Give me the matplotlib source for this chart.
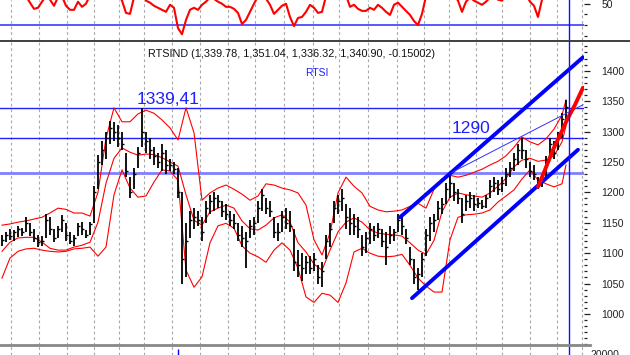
import matplotlib
matplotlib.use('Agg')
import matplotlib.pyplot as plt
import numpy as np

plt.rcParams['font.family'] = ['Liberation Sans', 'DejaVu Sans']

# Дневные бары RTSI (индекс бара слева направо)
highs = [1130, 1135, 1140, 1138, 1145, 1142, 1160, 1150, 1140, 1130,
         1128, 1165, 1160, 1140, 1145, 1162, 1150, 1135, 1130, 1150,
         1152, 1138, 1152, 1210, 1262, 1285, 1300, 1318, 1315, 1310,
         1300, 1265, 1225, 1240, 1275, 1339, 1300, 1290, 1275, 1265,
         1280, 1270, 1255, 1250, 1240, 1200, 1150, 1170, 1175, 1170,
         1160, 1185, 1195, 1200, 1195, 1185, 1180, 1170, 1165, 1150,
         1145, 1135, 1155, 1160, 1185, 1205, 1190, 1185, 1160, 1150,
         1170, 1175, 1170, 1140, 1105, 1100, 1095, 1095, 1100, 1080,
         1085, 1130, 1150, 1185, 1195, 1205, 1180, 1175, 1165, 1160,
         1130, 1135, 1150, 1145, 1150, 1140, 1135, 1145, 1140, 1165,
         1160, 1140, 1110, 1090, 1075, 1100, 1140, 1160, 1165, 1185,
         1190, 1215, 1228, 1215, 1205, 1190, 1195, 1200, 1195, 1190,
         1188, 1195, 1220, 1225, 1220, 1225, 1240, 1250, 1265, 1280,
         1290, 1270, 1250, 1245, 1225, 1230, 1260, 1290, 1285, 1300, 1330, 1351]
lows = [1112, 1118, 1122, 1120, 1127, 1128, 1135, 1128, 1118, 1110,
        1112, 1125, 1130, 1118, 1125, 1135, 1120, 1115, 1112, 1128,
        1130, 1125, 1130, 1150, 1205, 1245, 1255, 1280, 1285, 1275,
        1270, 1225, 1190, 1205, 1240, 1275, 1265, 1255, 1245, 1240,
        1235, 1230, 1235, 1230, 1190, 1050, 1060, 1125, 1140, 1145,
        1120, 1150, 1165, 1170, 1175, 1160, 1155, 1145, 1140, 1120,
        1110, 1075, 1125, 1130, 1150, 1170, 1165, 1160, 1125, 1120,
        1135, 1140, 1135, 1070, 1060, 1055, 1065, 1065, 1070, 1050,
        1045, 1090, 1110, 1150, 1165, 1170, 1140, 1130, 1130, 1125,
        1095, 1100, 1115, 1120, 1125, 1110, 1080, 1115, 1120, 1135,
        1130, 1115, 1080, 1050, 1040, 1060, 1095, 1120, 1135, 1155,
        1165, 1180, 1190, 1185, 1180, 1150, 1170, 1175, 1170, 1175,
        1172, 1175, 1190, 1200, 1195, 1200, 1210, 1225, 1235, 1245,
        1255, 1240, 1225, 1220, 1205, 1208, 1225, 1255, 1255, 1270, 1290, 1320]
closes = [1122, 1130, 1128, 1134, 1140, 1135, 1150, 1135, 1125, 1118,
          1120, 1155, 1140, 1125, 1140, 1155, 1130, 1120, 1125, 1145,
          1140, 1130, 1148, 1200, 1250, 1270, 1290, 1305, 1300, 1290,
          1280, 1235, 1200, 1230, 1265, 1300, 1285, 1270, 1260, 1250,
          1265, 1245, 1245, 1238, 1200, 1090, 1120, 1155, 1160, 1155,
          1135, 1175, 1185, 1190, 1185, 1170, 1165, 1155, 1150, 1130,
          1125, 1120, 1145, 1150, 1175, 1195, 1175, 1170, 1135, 1135,
          1160, 1150, 1145, 1085, 1080, 1075, 1085, 1075, 1090, 1060,
          1070, 1120, 1140, 1175, 1185, 1190, 1160, 1150, 1145, 1140,
          1110, 1125, 1140, 1130, 1140, 1120, 1110, 1130, 1135, 1155,
          1145, 1125, 1090, 1060, 1065, 1090, 1130, 1150, 1155, 1175,
          1180, 1205, 1215, 1200, 1190, 1165, 1185, 1190, 1180, 1182,
          1178, 1190, 1210, 1215, 1205, 1215, 1230, 1240, 1255, 1270,
          1270, 1255, 1235, 1230, 1215, 1220, 1250, 1280, 1265, 1290, 1320, 1341]

# Полосы Боллинджера (через бар)
band_idx = list(range(0, 141, 2)) + [141]
bb_upper = [1146, 1148, 1151, 1153, 1156, 1159, 1166, 1174, 1172, 1166,
            1166, 1161, 1200, 1289, 1339, 1316, 1316, 1329, 1335, 1330,
            1319, 1306, 1286, 1339, 1298, 1187, 1199, 1207, 1212, 1205,
            1197, 1187, 1194, 1214, 1212, 1207, 1204, 1199, 1179, 1122,
            1097, 1133, 1199, 1225, 1210, 1199, 1177, 1171, 1168, 1169,
            1171, 1177, 1182, 1174, 1205, 1222, 1228, 1225, 1228, 1233,
            1238, 1245, 1251, 1260, 1274, 1291, 1283, 1278, 1288, 1304, 1327, 1352]
bb_middle = [1103, 1118, 1125, 1126, 1126, 1118, 1108, 1105, 1105, 1110,
             1113, 1118, 1151, 1215, 1256, 1273, 1266, 1261, 1263, 1262,
             1257, 1250, 1243, 1196, 1154, 1146, 1168, 1174, 1179, 1174,
             1153, 1140, 1138, 1146, 1158, 1163, 1151, 1117, 1102, 1082,
             1072, 1105, 1135, 1151, 1158, 1151, 1138, 1133, 1131, 1130,
             1128, 1117, 1105, 1098, 1121, 1168, 1192, 1199, 1196, 1194,
             1192, 1199, 1210, 1223, 1242, 1253, 1256, 1251, 1253, 1260, 1283, 1309]
bb_lower = [1059, 1092, 1103, 1107, 1108, 1105, 1103, 1102, 1103, 1107,
            1108, 1110, 1095, 1110, 1196, 1237, 1207, 1192, 1194, 1217,
            1237, 1235, 1220, 1072, 1044, 1061, 1117, 1145, 1149, 1141,
            1112, 1100, 1094, 1085, 1105, 1117, 1105, 1075, 1028, 1019,
            1034, 1031, 1019, 1051, 1102, 1108, 1100, 1095, 1094, 1095,
            1098, 1080, 1059, 1046, 1036, 1036, 1122, 1159, 1163, 1164,
            1166, 1171, 1184, 1194, 1204, 1222, 1237, 1220, 1214, 1209, 1214, 1245]

# Осциллятор в верхней панели (значения выше 53 обрезаются рамкой)
rsi = [60, 62, 59, 61, 58, 60, 57, 51.0, 45.2, 46.2,
       51.9, 57, 53.8, 48.1, 56, 57, 48.1, 44.3, 44.3, 51.9,
       47.1, 50.0, 58, 62, 66, 68, 70, 67, 64, 60,
       52.9, 41.4, 40.5, 56, 60, 63, 52.9, 51.0, 48.1, 46.2,
       44.3, 42.4, 49.0, 46.2, 27.1, 21.4, 34.8, 44.3, 46.2, 44.3,
       49.0, 51.9, 56, 54.5, 51.9, 50.0, 47.1, 47.1, 45.2, 41.4,
       31.0, 34.8, 42.4, 50.0, 57, 59, 54.8, 49.0, 40.5, 44.3,
       48.1, 50.0, 37.6, 29.0, 36.7, 37.6, 42.4, 49.0, 46.2, 41.4,
       42.4, 57, 61, 65, 66, 63, 58, 47.1, 49.0, 45.2,
       43.3, 43.3, 46.2, 44.3, 49.0, 46.2, 42.4, 39.5, 49.0, 51.0,
       47.1, 43.3, 39.5, 33.8, 30.0, 40.5, 57, 62, 66, 68,
       67, 65, 61, 58, 52.9, 42.4, 51.9, 56, 52.9, 51.0,
       49.0, 51.9, 56, 57, 53.8, 52.9, 58, 62, 65, 68,
       64, 59, 51.9, 48.1, 37.6, 53.8, 60, 63, 66, 69, 70, 68]

# Уровни и трендовые линии
levels = [1339.41, 1290, 1232]
chan_up_x, chan_up_y = [99.5, 145.25], [1159, 1422]
chan_lo_x, chan_lo_y = [102.5, 144.0], [1026, 1270]
thin_x, thin_y = [112.5, 145.25], [1233, 1344]
arc_x = [134, 135.75, 137.75, 139.5, 141.25, 143.25, 145.25]
arc_y = [1209, 1237, 1270, 1294, 1319, 1344, 1372]
grid_idx = [2.2, 9.25, 16.25, 23, 29.25, 35.5, 42.5, 49.5, 56.5, 63.25, 70.5,
            77.75, 84.25, 91.5, 98.75, 105.5, 111.75, 118.5, 125, 132, 138.75, 145]
today_idx = 141.75

W, H = 630, 355
fig = plt.figure(figsize=(6.3, 3.55), dpi=100)
R = 584 / W
ax_top = fig.add_axes([0, 1 - 40 / H, R, 40 / H])
ax = fig.add_axes([0, 1 - 345 / H, R, 304 / H])
ax_bot = fig.add_axes([0, 0, R, 10 / H])

idx = np.arange(len(closes))
for a in (ax_top, ax, ax_bot):
    a.set_xlim(-0.5, 145.5)
    a.set_facecolor('none')
    for s in a.spines.values():
        s.set_visible(False)
    for g in grid_idx:
        a.axvline(g, color='#a8a8a8', lw=0.8, ls=(0, (2.5, 2.5)), zorder=0)
    a.axvline(today_idx, color='#1010ff', lw=1.0, zorder=5)
    a.set_xticks([])

# верхняя панель
ax_top.set_ylim(16, 53.5)
ax_top.plot(idx, rsi, color='red', lw=1.5, zorder=3)
ax_top.axhline(30, color='#4a4aff', lw=1.3, zorder=2)
ax_top.yaxis.tick_right()
ax_top.set_yticks([50])
ax_top.set_yticklabels(['50'])
ax_top.set_yticks([40, 30, 20], minor=True)
ax_top.tick_params(axis='y', which='major', length=4.3, width=0.9, pad=8, labelsize=7.5, colors='#222222')
ax_top.tick_params(axis='y', which='minor', length=1.8, width=0.9, colors='#222222')

# основная панель
ax.set_ylim(949, 1448.8)
ax.vlines(idx, lows, highs, color='black', lw=1.3, zorder=3)
ax.hlines(closes, idx, idx + 0.45, color='black', lw=1.0, zorder=3)
ax.plot(band_idx, bb_upper, color='red', lw=0.8, zorder=2)
ax.plot(band_idx, bb_middle, color='red', lw=0.8, zorder=2)
ax.plot(band_idx, bb_lower, color='red', lw=0.8, zorder=2)
ax.axhline(levels[0], color='#2020ff', lw=1.0, zorder=1)
ax.axhline(levels[1], color='#2020ff', lw=1.0, zorder=1)
ax.axhline(levels[2], color='#8080ff', lw=2.0, zorder=1)
ax.plot(chan_up_x, chan_up_y, color='#0000ff', lw=2.8, zorder=4, solid_capstyle='round')
ax.plot(chan_lo_x, chan_lo_y, color='#0000ff', lw=2.8, zorder=4, solid_capstyle='round')
ax.plot(thin_x, thin_y, color='#3030ff', lw=0.7, zorder=4)
ax.plot(arc_x, arc_y, color='#ff0000', lw=2.8, zorder=4, solid_capstyle='round')

ax.text(41.5, levels[0] + 1, '1339,41', color='#2020ff', fontsize=12.5, va='bottom', ha='center', zorder=6)
ax.text(117.25, levels[1] + 3, '1290', color='#2020ff', fontsize=12.5, va='bottom', ha='center', zorder=6)
ax.text(0.5, 0.975, 'RTSIND (1,339.78, 1,351.04, 1,336.32, 1,340.90, -0.15002)',
        transform=ax.transAxes, ha='center', va='top', fontsize=7.8, color='#111111')
ax.text(0.542, 0.91, 'RTSI', transform=ax.transAxes, ha='center', va='top', fontsize=7.5, color='#2020ff')

ax.yaxis.tick_right()
ax.set_yticks(np.arange(1000, 1401, 50))
ax.set_yticks(np.arange(950, 1450, 10), minor=True)
ax.tick_params(axis='y', which='major', length=4.3, width=0.9, pad=8, labelsize=7.5, colors='#222222')
ax.tick_params(axis='y', which='minor', length=1.8, width=0.9, colors='#222222')

# нижняя полоска
ax_bot.set_ylim(0, 1)
ax_bot.set_yticks([])
ax_bot.vlines([44], 0, 0.6, color='#0000ff', lw=1.0)

# разделители панелей
fig.add_artist(plt.Line2D([0, 1], [1 - 40.5 / H] * 2, color='#303030', lw=1.3))
fig.add_artist(plt.Line2D([0, 590 / W], [1 - 345 / H] * 2, color='#888888', lw=2.0))
fig.text(590 / W, 1 - 350 / H, '20000', fontsize=7.5, va='top', color='#222222')

fig.savefig('out.png', dpi=100)
